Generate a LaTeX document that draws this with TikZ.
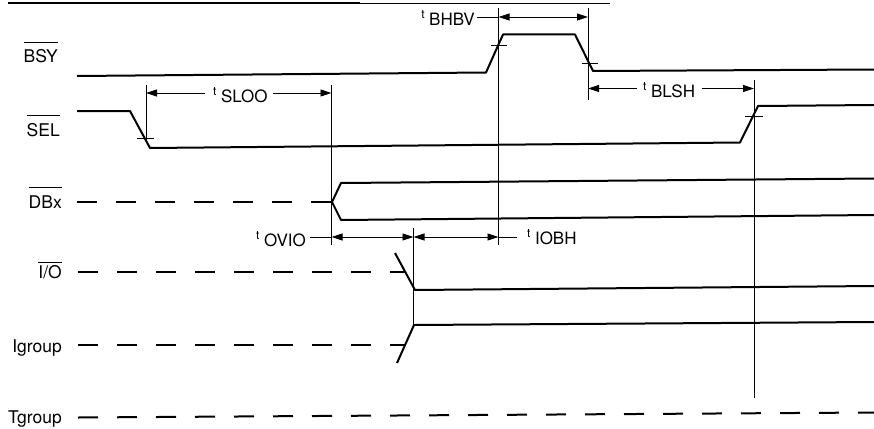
\documentclass[tikz,border=0pt]{standalone}
\usepackage{fontspec}
\setmainfont{TeX Gyre Heros}
\usetikzlibrary{arrows.meta}
\newcommand\ovl[2][6pt]{\setbox0\hbox{#2}\rlap{\raisebox{\dimexpr\ht0+#1\relax}{\rule{\wd0}{1pt}}}\box0}
\newcommand\tname[1]{\raisebox{7pt}{\fontsize{12}{12}\selectfont t}\hspace{4.5pt}#1}
\begin{document}
\begin{tikzpicture}[x=1pt,y=-1pt,
  sig/.style={line width=2pt,line join=round},
  dsh/.style={line width=2pt,dash pattern=on 20pt off 19pt},
  thinl/.style={line width=0.9pt},
  dim/.style={line width=0.9pt,{Triangle[length=11pt,width=7pt]}-{Triangle[length=11pt,width=7pt]}},
  arr/.style={line width=0.9pt,-{Triangle[length=11pt,width=7pt]}},
  lbl/.style={font=\fontsize{17.5}{17.5}\selectfont,inner sep=0pt,anchor=base east},
  tl/.style={font=\fontsize{17}{17}\selectfont,inner sep=0pt,anchor=base west},
  tr/.style={tl,anchor=base east}]
\useasboundingbox (0,0) rectangle (874,428);
% scan edge line at top
\draw[line width=1.3pt] (8,3) -- (360,3);
\draw[line width=0.6pt] (360,3) -- (610,3);
% signal names
\node[lbl] (lBSY) at (58,63) {\ovl[7pt]{BSY}};
\node[lbl] (lSEL) at (60,136) {\ovl[7pt]{SEL}};
\node[lbl] (lDB) at (62,208) {\ovl[7pt]{DBx}};
\node[lbl] (lIO) at (62,278) {\ovl[2pt]{I/O}};
\node[lbl] (lIg) at (62,352) {Igroup};
\node[lbl] (lTg) at (62,423.5) {Tgroup};
% waveforms
\draw[sig] (77,76) -- (486,72.5) -- (503,34.5) -- (575,34.5) -- (593,71) -- (874,69.5);
\draw[sig] (77,111) -- (130,111) -- (150,148) -- (740,142.5) -- (758,106) -- (874,105);
\draw[dsh] (77,202) -- (332,202);
\draw[sig] (874,178.5) -- (341,183) -- (332,202) -- (341,220) -- (874,215);
\draw[dsh] (78,272) -- (405,272);
\draw[sig] (395,253) -- (415,290) -- (874,286);
\draw[dsh] (78,345) -- (405,345);
\draw[sig] (397,363) -- (414,325) -- (874,322);
\draw[dsh] (78,417.5) -- (874,412.5);
% threshold ticks
\draw[thinl] (491,45) -- (507,45);
\draw[thinl] (582,63) -- (598,63);
\draw[thinl] (137,138) -- (154,138);
\draw[thinl] (745,116) -- (763,116);
% reference verticals
\draw[thinl] (146,85) -- (146,141);
\draw[thinl] (331.5,85) -- (331.5,245);
\draw[thinl] (498.5,8) -- (498.5,245);
\draw[thinl] (588,8) -- (588,100);
\draw[thinl] (754,80) -- (754,398);
\draw[thinl] (413.5,228) -- (413.5,325);
% timing dimensions
\node[tr] (tBHBV) at (475,26) {\tname{BHBV}};
\draw[thinl] (477,17) -- (498.5,17);
\draw[dim] (498.5,17) -- (588,17);
\node[tl] (tSLOO) at (213,102) {\tname{SLOO}};
\draw[arr] (205,93) -- (146,93);
\draw[arr] (273,93) -- (331.5,93);
\node[tl] (tBLSH) at (643,97.5) {\tname{BLSH}};
\draw[arr] (637,88.5) -- (588,88.5);
\draw[arr] (702,88.5) -- (754,88.5);
\node[tr] (tOVIO) at (306,246) {\tname{OVIO}};
\draw[thinl] (310,237) -- (331.5,237);
\draw[dim] (331.5,237) -- (413.5,237);
\draw[dim] (413.5,237) -- (498.5,237);
\draw[thinl] (498.5,237) -- (517,237);
\node[tl] (tIOBH) at (527,244) {\tname{IOBH}};
\end{tikzpicture}
\end{document}
